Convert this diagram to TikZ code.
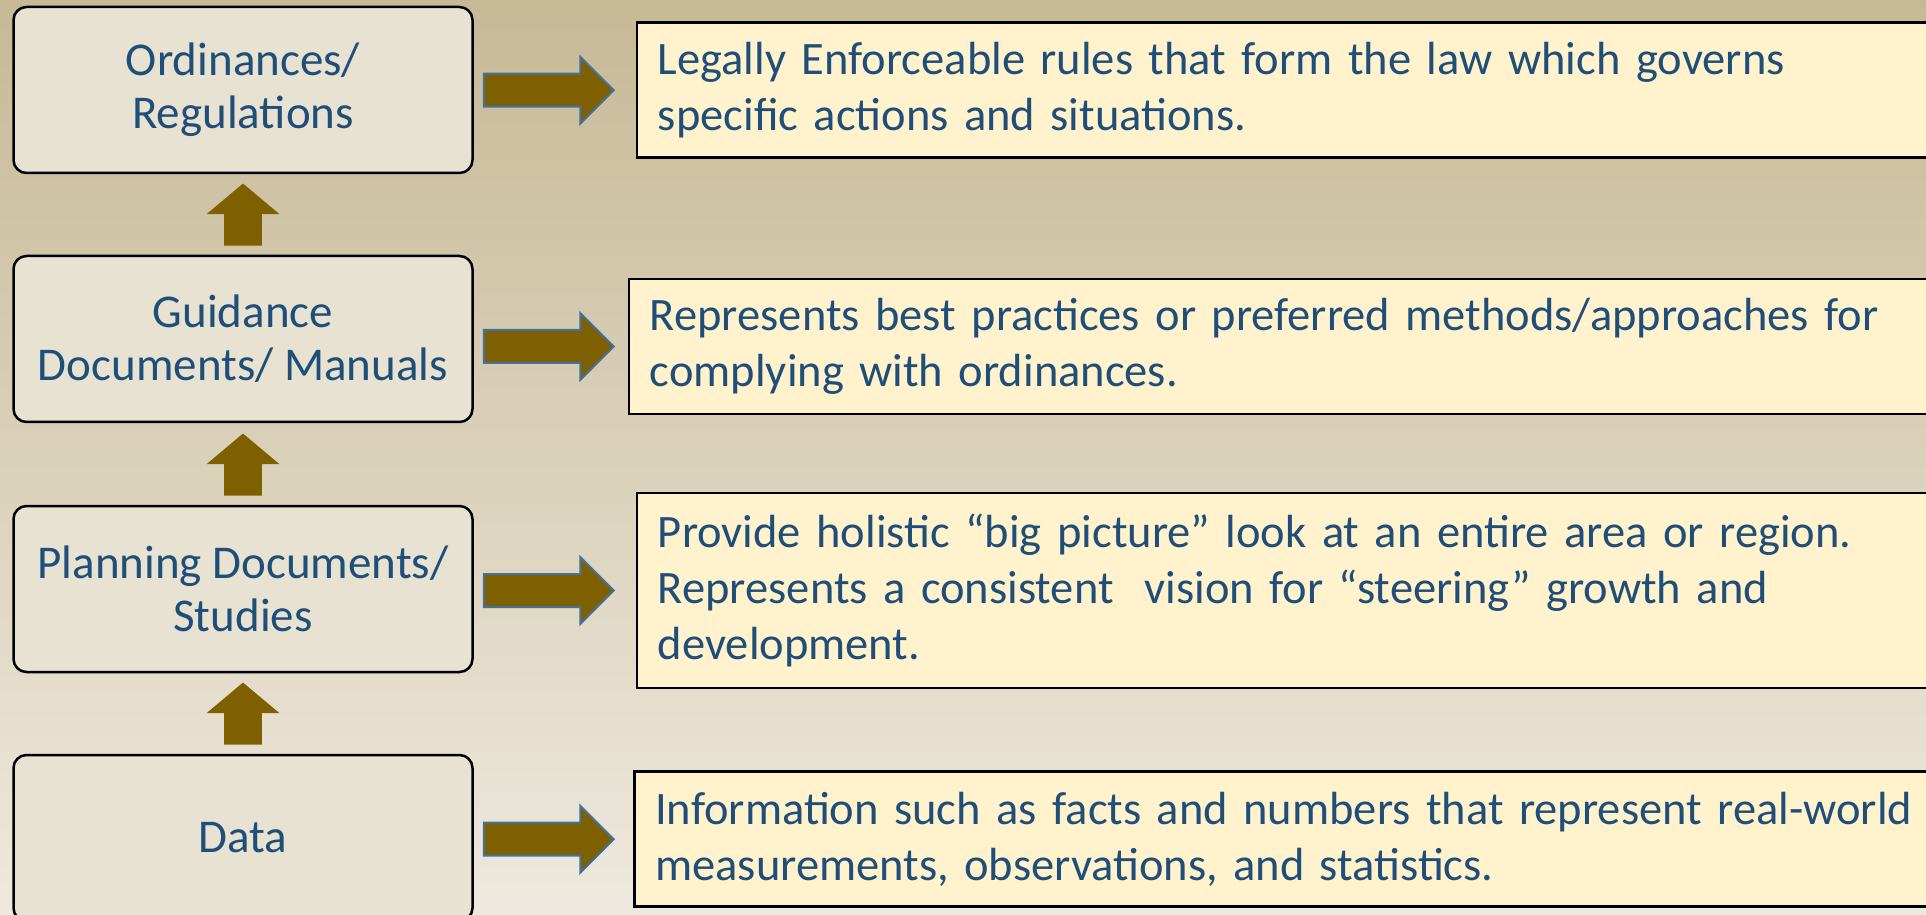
\documentclass[tikz,border=0pt]{standalone}
\usepackage{fontspec}
\setmainfont{Carlito}
\usetikzlibrary{positioning, shapes.arrows, calc}

\definecolor{bgtop}{RGB}{199,185,150}
\definecolor{bgbot}{RGB}{238,233,222}
\definecolor{levelfill}{RGB}{232,226,210}
\definecolor{notefill}{RGB}{255,242,204}
\definecolor{inktext}{RGB}{31,78,121}
\definecolor{arrowfill}{RGB}{127,96,0}
\definecolor{arrowedge}{RGB}{65,113,156}

\begin{document}
\begin{tikzpicture}[
    x=1pt, y=1pt,
    every node/.style={text=inktext},
    level/.style={draw, line width=2.5pt, rounded corners=13pt, fill=levelfill,
                  font=\fontsize{47}{53}\selectfont,
                  align=center, minimum width=459pt, minimum height=166pt, inner sep=0pt},
    note/.style ={draw, line width=2.5pt, fill=notefill, anchor=west, align=left,
                  font=\fontsize{46.5}{56}\selectfont,
                  text width=1300pt, inner xsep=21pt, inner ysep=0pt, minimum height=135pt},
    feeds/.style={single arrow, draw=arrowedge, line width=2pt, fill=arrowfill,
                  minimum height=130pt, single arrow head extend=17pt,
                  inner xsep=0pt, inner ysep=15.5pt, anchor=west},
    lifts/.style={single arrow, fill=arrowfill, rotate=90, minimum height=62pt,
                  single arrow head extend=17.6pt, single arrow tip angle=100,
                  inner xsep=0pt, inner ysep=18.6pt, anchor=tail},
]
\useasboundingbox (0,0) rectangle (1926,914);
\clip (0,0) rectangle (1926,914);
\shade[top color=bgtop, bottom color=bgbot] (0,0) rectangle (1926,914);

% the four levels, lowest at the bottom
\node[level] (ord)   at (243,824) {Ordinances/\\Regulations};
\node[level] (guide) at (243,575) {Guidance\\Documents/ Manuals};
\node[level] (plan)  at (243,325) {Planning Documents/\\Studies};
\node[level] (data)  at (243,76)  {Data};

% what each level means
\node[note] (ordtxt)   at (635.7,823.8)
     {Legally Enforceable rules that form the law which governs\\specific actions and situations.};
\node[note] (guidetxt) at (627.7,567.5)
     {Represents best practices or preferred methods/approaches for\\complying with ordinances.};
\node[note, minimum height=195pt] (plantxt) at (635.7,323.5)
     {Provide holistic “big picture” look at an entire area or region.\\Represents a consistent\ \ vision for “steering” growth and\\development.};
\node[note] (datatxt)  at (633,74.8)
     {Information such as facts and numbers that represent real-world\\measurements, observations, and statistics.};

\node[feeds, xshift=9pt] (a1) at (ord.east |- ordtxt.west) {};
\node[feeds, xshift=9pt] (a2) at (guide.east |- guidetxt.west) {};
\node[feeds, xshift=9pt] (a3) at (plan.east |- plantxt.west) {};
\node[feeds, xshift=9pt] (a4) at (data.east |- datatxt.west) {};

% each level builds on the one below
\node[lifts] (u1) at ([yshift=9pt]guide.north) {};
\node[lifts] (u2) at ([yshift=9pt]plan.north) {};
\node[lifts] (u3) at ([yshift=9pt]data.north) {};
\end{tikzpicture}
\end{document}
